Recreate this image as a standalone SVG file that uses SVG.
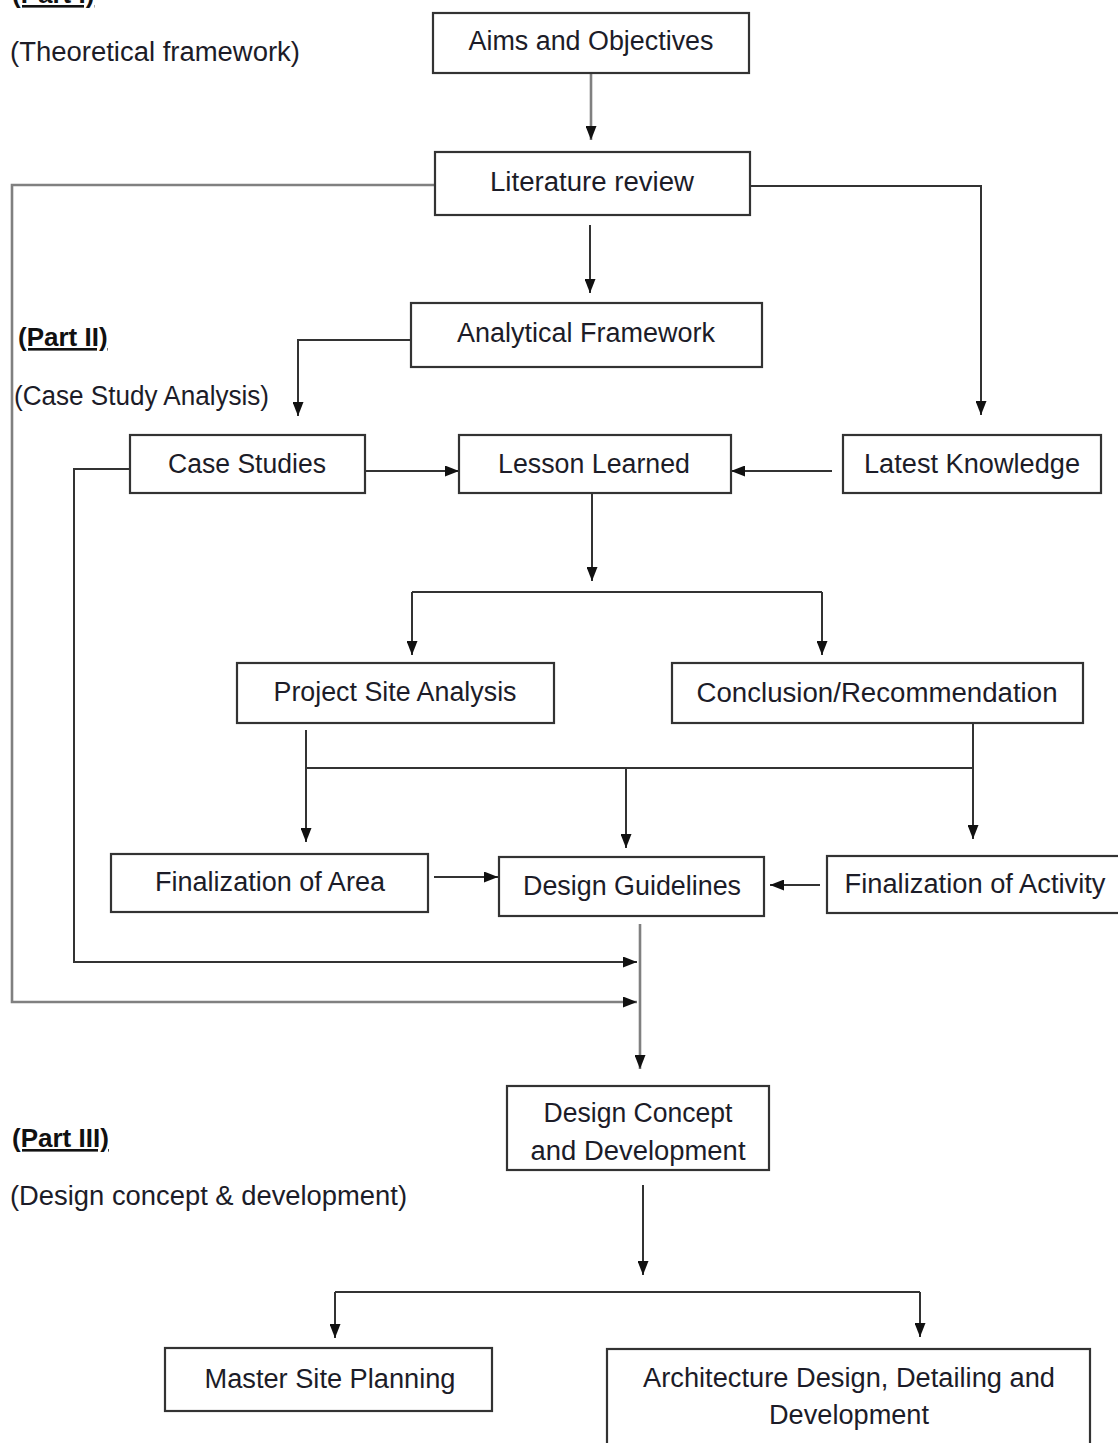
<svg xmlns="http://www.w3.org/2000/svg" width="1118" height="1443" viewBox="0 0 1118 1443">
<defs>
<marker id="arr" viewBox="0 0 14 11" markerWidth="14" markerHeight="11" refX="14" refY="5.5" orient="auto" markerUnits="userSpaceOnUse">
<path d="M0,0 L14,5.5 L0,11 z" fill="#111"/>
</marker>
</defs>
<style>
.box{fill:#fff;stroke:#333;stroke-width:2.2}
.t{font-family:"Liberation Sans",Arial,sans-serif;font-size:27px;fill:#1c1c28;text-anchor:middle}
.lbl{font-family:"Liberation Sans",Arial,sans-serif;font-size:27px;fill:#1c1c28}
.part{font-family:"Liberation Sans",Arial,sans-serif;font-size:26px;font-weight:bold;fill:#111;text-decoration:underline}
.c{fill:none;stroke:#333;stroke-width:2}
.g{fill:none;stroke:#808080;stroke-width:2.6}
.a{marker-end:url(#arr)}
</style>
<rect width="1118" height="1443" fill="#fff"/>

<g id="labels">
<text class="part" x="12" y="3">(Part I)</text>
<text class="lbl" x="10" y="61" textLength="290" lengthAdjust="spacingAndGlyphs">(Theoretical framework)</text>
<text class="part" x="18" y="346">(Part II)</text>
<text class="lbl" x="14" y="405" textLength="255" lengthAdjust="spacingAndGlyphs">(Case Study Analysis)</text>
<text class="part" x="12" y="1147">(Part III)</text>
<text class="lbl" x="10" y="1205" textLength="397" lengthAdjust="spacingAndGlyphs">(Design concept &amp; development)</text>
</g>

<g id="connectors">
<path class="g a" d="M591,73 V140"/>
<path class="c a" d="M590,225 V293"/>
<path class="g a" d="M435,185 H12 V1002 H637"/>
<path class="c a" d="M750,186 H981 V415"/>
<path class="c a" d="M411,340 H298 V416"/>
<path class="c a" d="M365,471 H459"/>
<path class="c a" d="M832,471 H731"/>
<path class="c a" d="M130,469 H74 V962 H637"/>
<path class="c a" d="M592,493 V581"/>
<path class="c" d="M412,592 H822"/>
<path class="c a" d="M412,592 V655"/>
<path class="c a" d="M822,592 V655"/>
<path class="c a" d="M306,730 V842"/>
<path class="c" d="M306,768 H973"/>
<path class="c a" d="M973,723 V839"/>
<path class="c a" d="M626,768 V848"/>
<path class="c a" d="M434,877 H498"/>
<path class="c a" d="M820,885 H770"/>
<path class="g a" d="M640,924 V1069"/>
<path class="c a" d="M643,1185 V1275"/>
<path class="c" d="M335,1292 H920"/>
<path class="c a" d="M335,1292 V1338"/>
<path class="c a" d="M920,1292 V1337"/>
</g>

<g id="aims"><rect class="box" x="433" y="13" width="316" height="60"/><text class="t" x="591" y="50" textLength="245" lengthAdjust="spacingAndGlyphs">Aims and Objectives</text></g>
<g id="literature"><rect class="box" x="435" y="152" width="315" height="63"/><text class="t" x="592" y="191" textLength="204" lengthAdjust="spacingAndGlyphs">Literature review</text></g>
<g id="analytical"><rect class="box" x="411" y="303" width="351" height="64"/><text class="t" x="586" y="342" textLength="258" lengthAdjust="spacingAndGlyphs">Analytical Framework</text></g>
<g id="casestudies"><rect class="box" x="130" y="435" width="235" height="58"/><text class="t" x="247" y="473" textLength="158" lengthAdjust="spacingAndGlyphs">Case Studies</text></g>
<g id="lesson"><rect class="box" x="459" y="435" width="272" height="58"/><text class="t" x="594" y="473" textLength="192" lengthAdjust="spacingAndGlyphs">Lesson Learned</text></g>
<g id="latest"><rect class="box" x="843" y="435" width="258" height="58"/><text class="t" x="972" y="473" textLength="216" lengthAdjust="spacingAndGlyphs">Latest Knowledge</text></g>
<g id="projectsite"><rect class="box" x="237" y="663" width="317" height="60"/><text class="t" x="395" y="701" textLength="243" lengthAdjust="spacingAndGlyphs">Project Site Analysis</text></g>
<g id="conclusion"><rect class="box" x="672" y="663" width="411" height="60"/><text class="t" x="877" y="702" textLength="361" lengthAdjust="spacingAndGlyphs">Conclusion/Recommendation</text></g>
<g id="finarea"><rect class="box" x="111" y="854" width="317" height="58"/><text class="t" x="270" y="891" textLength="230" lengthAdjust="spacingAndGlyphs">Finalization of Area</text></g>
<g id="guidelines"><rect class="box" x="499" y="857" width="265" height="59"/><text class="t" x="632" y="895" textLength="218" lengthAdjust="spacingAndGlyphs">Design Guidelines</text></g>
<g id="finactivity"><rect class="box" x="827" y="856" width="300" height="57"/><text class="t" x="975" y="893" textLength="261" lengthAdjust="spacingAndGlyphs">Finalization of Activity</text></g>
<g id="concept"><rect class="box" x="507" y="1086" width="262" height="84"/><text class="t" x="638" y="1122" textLength="189" lengthAdjust="spacingAndGlyphs">Design Concept</text><text class="t" x="638" y="1160" textLength="215" lengthAdjust="spacingAndGlyphs">and Development</text></g>
<g id="master"><rect class="box" x="165" y="1348" width="327" height="63"/><text class="t" x="330" y="1388" textLength="251" lengthAdjust="spacingAndGlyphs">Master Site Planning</text></g>
<g id="architecture"><rect class="box" x="607" y="1349" width="483" height="110"/><text class="t" x="849" y="1387" textLength="412" lengthAdjust="spacingAndGlyphs">Architecture Design, Detailing and</text><text class="t" x="849" y="1424" textLength="160" lengthAdjust="spacingAndGlyphs">Development</text></g>
</svg>
